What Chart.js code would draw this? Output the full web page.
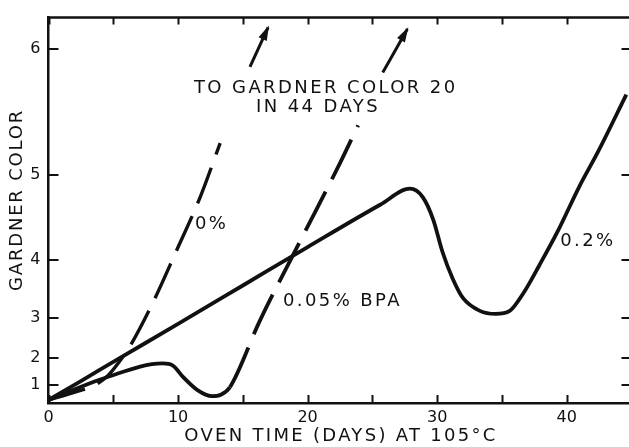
<!DOCTYPE html>
<html>
<head>
<meta charset="utf-8">
<script src="https://cdn.jsdelivr.net/npm/chart.js@4.4.0/dist/chart.umd.min.js"></script>
<style>
  html, body { margin: 0; padding: 0; background: #fff; overflow: hidden; }
  #wrap { width: 640px; height: 447px; }
</style>
</head>
<body>
<div id="wrap"><canvas id="chart" width="640" height="447"></canvas></div>
<script>
// oven time (days) against Gardner colour, one pair of arrays per curve
const days02 = [0, 2.5, 5, 10, 15, 20, 25.6, 27.9, 28.9, 29.7, 30.4, 31.2, 32.0, 33.3, 34.5, 35.6, 36.6, 37.9, 39.3, 41.0, 42.4, 44.6];
const color02 = [0.2, 1.16, 1.87, 2.88, 3.61, 4.18, 4.69, 4.86, 4.77, 4.52, 4.12, 3.72, 3.39, 3.15, 3.09, 3.15, 3.46, 3.93, 4.38, 4.89, 5.21, 5.68];

const days005 = [0, 4.5, 8.8, 9.6, 10.4, 11.5, 12.6, 13.3, 14.0, 16.3, 19.4, 22.5, 23.9];
const color005 = [0.2, 1.32, 1.82, 1.75, 1.32, 0.74, 0.42, 0.5, 0.88, 2.94, 4.25, 5.11, 5.44];

const days0 = [0, 2.05, 3.6, 4.6, 5.7, 6.45, 8.1, 9.85, 11.7, 13.25];
const color0 = [0.2, 0.64, 0.98, 1.39, 2.01, 2.43, 3.33, 4.12, 4.77, 5.29];

// short arrows: both curves run on past the top of the plot
const arrow0Days = [15.55, 16.95];
const arrow0Color = [5.88, 6.14];
const arrow005Days = [25.8, 27.7];
const arrow005Color = [5.84, 6.13];

const yTicks = [1, 2, 3, 4, 5, 6];

const INK = '#111';
const FONT = 'DejaVu Sans';

// the Gardner axis is stretched upward: distance from zero grows as 1.47^g - 1
const GROWTH = 1.47;

class GardnerScale extends Chart.LinearScale {
  _curve(v) {
    return Math.pow(GROWTH, v) - 1;
  }
  getPixelForValue(value) {
    const lo = this._curve(this.min);
    const hi = this._curve(this.max);
    return this.getPixelForDecimal((this._curve(value) - lo) / (hi - lo));
  }
  getValueForPixel(pixel) {
    const lo = this._curve(this.min);
    const hi = this._curve(this.max);
    const c = lo + this.getDecimalForPixel(pixel) * (hi - lo);
    return Math.log(c + 1) / Math.log(GROWTH);
  }
}
GardnerScale.id = 'gardner';
GardnerScale.defaults = Chart.LinearScale.defaults;
Chart.register(GardnerScale);

function pairs(xs, ys) {
  return xs.map((x, i) => ({ x: x, y: ys[i] }));
}

const notes = [
  { text: 'TO GARDNER COLOR 20', day: 21.4, color: 5.73, align: 'center' },
  { text: 'IN 44 DAYS', day: 20.8, color: 5.58, align: 'center' },
  { text: '0%', day: 11.3, color: 4.47, align: 'left' },
  { text: '0.05% BPA', day: 18.1, color: 3.33, align: 'left' },
  { text: '0.2%', day: 39.5, color: 4.25, align: 'left' },
];

// frame ticks point inward on all four sides; arrowheads, notes and axis titles
const inkPlugin = {
  id: 'ink',
  afterDatasetsDraw(chart) {
    const ctx = chart.ctx;
    ctx.save();
    ctx.fillStyle = INK;
    chart.data.datasets.forEach((ds, i) => {
      if (!ds.arrowHead) return;
      const pts = chart.getDatasetMeta(i).data;
      const a = pts[pts.length - 2];
      const b = pts[pts.length - 1];
      ctx.save();
      ctx.translate(b.x, b.y);
      ctx.rotate(Math.atan2(b.y - a.y, b.x - a.x));
      ctx.beginPath();
      ctx.moveTo(2, 0);
      ctx.lineTo(-13, -4.5);
      ctx.lineTo(-13, 4.5);
      ctx.closePath();
      ctx.fill();
      ctx.restore();
    });
    ctx.restore();
  },
  afterDraw(chart) {
    const { ctx, chartArea: a, scales } = chart;
    const x = scales.x;
    const y = scales.y;
    ctx.save();
    ctx.strokeStyle = INK;
    ctx.lineWidth = 2.5;
    ctx.beginPath();
    ctx.moveTo(a.left - 1, a.top);
    ctx.lineTo(a.right, a.top);
    ctx.stroke();

    ctx.lineWidth = 2;
    ctx.beginPath();
    x.ticks.forEach(t => {
      const px = Math.round(x.getPixelForValue(t.value)) + 0.5;
      ctx.moveTo(px, a.bottom);
      ctx.lineTo(px, a.bottom - 8);
      ctx.moveTo(px, a.top);
      ctx.lineTo(px, a.top + 7);
    });
    y.ticks.forEach(t => {
      const py = Math.round(y.getPixelForValue(t.value));
      ctx.moveTo(a.left, py);
      ctx.lineTo(a.left + 10, py);
      ctx.moveTo(a.right, py);
      ctx.lineTo(a.right - 10, py);
    });
    ctx.stroke();

    ctx.fillStyle = INK;
    ctx.font = '18px "' + FONT + '"';
    ctx.letterSpacing = '2.4px';
    ctx.textBaseline = 'middle';
    notes.forEach(n => {
      ctx.textAlign = n.align;
      ctx.fillText(n.text, x.getPixelForValue(n.day), y.getPixelForValue(n.color));
    });

    // axis titles, spaced out like the tick lettering
    ctx.textAlign = 'center';
    ctx.letterSpacing = '2.3px';
    ctx.fillText('OVEN TIME (DAYS) AT 105°C', (a.left + a.right) / 2 + 1, 436);
    ctx.letterSpacing = '1.8px';
    ctx.translate(17, 200);
    ctx.rotate(-Math.PI / 2);
    ctx.fillText('GARDNER COLOR', 0, 0);
    ctx.restore();
  }
};

const tickFont = { family: FONT, size: 16 };

new Chart(document.getElementById('chart'), {
  type: 'line',
  data: {
    datasets: [
      {
        label: '0.2%',
        data: pairs(days02, color02),
        borderColor: INK,
        borderWidth: 3.8,
      },
      {
        label: '0.05% BPA',
        data: pairs(days005, color005),
        borderColor: INK,
        borderWidth: 3.8,
        segment: {
          borderDash: c => (c.p0.parsed.x >= 14 ? [44, 14] : undefined),
        },
      },
      {
        label: '0%',
        data: pairs(days0, color0),
        borderColor: INK,
        borderWidth: 3.4,
        borderDash: [38, 14],
      },
      {
        label: '0% arrow',
        data: pairs(arrow0Days, arrow0Color),
        borderColor: INK,
        borderWidth: 3,
        arrowHead: true,
      },
      {
        label: '0.05% arrow',
        data: pairs(arrow005Days, arrow005Color),
        borderColor: INK,
        borderWidth: 3,
        arrowHead: true,
      },
    ],
  },
  options: {
    responsive: false,
    animation: false,
    layout: { padding: { top: 13, right: 8.5, left: 0, bottom: 0 } },
    elements: {
      point: { radius: 0 },
      line: { cubicInterpolationMode: 'monotone', borderJoinStyle: 'round', fill: false },
    },
    plugins: {
      legend: { display: false },
      tooltip: { enabled: false },
      colors: { enabled: false },
    },
    scales: {
      x: {
        type: 'linear',
        min: 0,
        max: 45,
        afterFit: s => { s.height = 44; },
        grid: { display: false, tickLength: 0 },
        border: { display: true, color: INK, width: 2.5 },
        ticks: {
          stepSize: 5,
          autoSkip: false,
          maxRotation: 0,
          padding: 5,
          color: INK,
          font: tickFont,
          callback: v => (v % 10 === 0 ? String(v) : ''),
        },
      },
      y: {
        type: 'gardner',
        min: 0,
        max: 6.2,
        afterFit: s => { s.width = 48.5; },
        afterBuildTicks: s => { s.ticks = yTicks.map(v => ({ value: v })); },
        grid: { display: false, tickLength: 0 },
        border: { display: true, color: INK, width: 2.5 },
        ticks: {
          padding: 8,
          color: INK,
          font: tickFont,
          callback: v => String(v),
        },
      },
    },
  },
  plugins: [inkPlugin],
});
</script>
</body>
</html>
